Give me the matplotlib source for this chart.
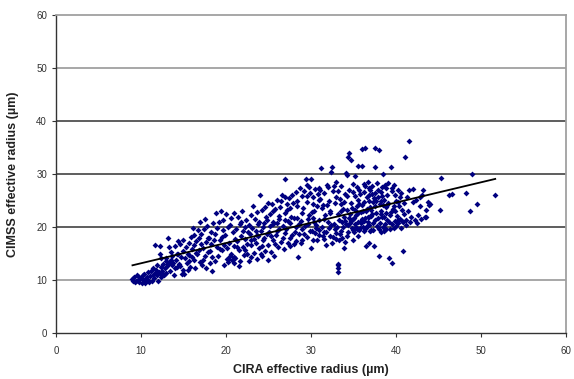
import matplotlib
matplotlib.use("Agg")
import matplotlib.pyplot as plt
import numpy as np

plt.rcParams['font.family'] = ['Liberation Sans', 'DejaVu Sans']

# ---- data (CIRA effective radius, CIMSS effective radius) ----
pts_09_13 = [(9.0,10.2),(9.1,9.8),(9.2,10.5),(9.4,9.9),(9.5,11.0),(9.6,10.1),(9.8,9.7),(10.0,10.4),
             (10.1,9.5),(10.3,11.2),(10.4,10.0),(10.5,9.4),(10.7,10.6),(10.8,11.5),(10.9,9.8),(9.3,9.6),
             (10.2,10.9),(11.0,9.6),(11.1,10.8),(11.2,11.8),(11.3,9.9),(11.4,12.3),(11.5,10.4),(11.6,11.3),
             (11.7,16.6),(11.8,12.0),(11.9,10.9),(12.0,9.9),(12.1,11.6),(12.2,16.5),(12.3,12.4),(12.4,10.6),
             (12.5,11.8),(12.6,13.0),(12.7,10.9),(12.8,12.2),(12.9,11.4),(12.2,15.0),(12.4,14.2),(12.6,11.1),
             (11.9,12.8),(12.9,13.6)]
pts_13_17 = [(13.0,14.2),(13.1,12.6),(13.2,18.0),(13.3,13.5),(13.4,11.7),(13.5,15.4),(13.6,12.9),(13.7,14.6),
             (13.8,13.2),(13.9,11.0),(14.0,16.4),(14.1,13.8),(14.2,12.4),(14.3,15.0),(14.4,17.3),(14.5,13.1),
             (14.6,16.8),(14.7,14.4),(14.8,11.2),(14.9,12.0),(15.0,17.6),(14.2,14.9),(13.5,13.8),(14.6,12.7),
             (13.3,16.2),(14.9,15.5),(15.1,11.1),(15.2,14.2),(15.3,16.3),(15.4,13.2),(15.5,15.0),(15.6,17.0),
             (15.7,14.7),(15.8,12.5),(15.9,18.2),(16.0,15.8),(16.1,19.8),(16.2,13.8),(16.3,16.6),(16.4,12.2),
             (16.5,17.4),(16.6,14.9),(16.7,19.5),(16.8,15.6),(16.9,21.0),(17.0,13.4),(16.2,18.6),(15.5,12.0),
             (16.8,17.9),(16.0,14.3)]
pts_17_21 = [(17.1,18.8),(17.2,12.8),(17.3,16.1),(17.4,19.6),(17.5,14.5),(17.6,17.2),(17.7,12.3),(17.8,20.3),
             (17.9,15.4),(18.0,18.0),(18.1,13.2),(18.2,16.8),(18.3,19.1),(18.4,14.3),(18.5,20.8),(18.6,17.5),
             (18.7,13.6),(18.8,22.6),(18.9,16.3),(19.0,19.8),(17.5,21.5),(18.4,11.8),(17.9,17.9),(18.7,18.8),
             (17.3,13.8),(19.1,14.5),(19.2,20.9),(19.3,17.6),(19.4,23.1),(19.5,15.7),(19.6,19.4),(19.7,21.3),
             (19.8,16.7),(19.9,18.5),(20.0,22.5),(20.1,14.0),(20.2,20.1),(20.3,13.5),(20.4,17.0),(20.5,14.6),
             (20.6,21.8),(20.7,13.8),(20.8,19.0),(20.9,14.3),(21.0,22.7),(20.6,15.0),(20.2,13.9),(19.5,18.2),
             (20.9,16.4),(19.8,12.8),(20.5,20.4),(21.0,13.2)]
pts_21_25 = [(21.1,14.1),(21.2,19.6),(21.3,17.3),(21.4,22.0),(21.5,15.6),(21.6,20.5),(21.7,13.6),(21.8,18.3),
             (21.9,23.0),(22.0,16.2),(22.1,14.8),(22.2,20.0),(22.3,17.8),(22.4,21.4),(22.5,15.0),(22.6,19.0),
             (22.7,13.7),(22.8,18.7),(22.9,22.2),(23.0,16.6),(21.5,12.6),(22.3,15.7),(21.8,21.0),(22.7,20.4),
             (23.0,14.3),(21.3,16.2),(22.0,19.3),(22.9,17.6),(23.1,19.8),(23.2,24.0),(23.3,15.2),(23.4,21.6),
             (23.5,17.0),(23.6,14.0),(23.7,22.8),(23.8,18.3),(23.9,16.0),(24.0,26.0),(24.1,19.3),(24.2,14.6),
             (24.3,23.2),(24.4,17.6),(24.5,20.7),(24.6,15.5),(24.7,22.0),(24.8,18.8),(24.9,13.8),(25.0,24.6),
             (23.5,19.2),(24.2,16.5),(24.8,21.3),(23.8,20.5),(24.5,18.0),(25.0,16.7),(23.3,17.8),(24.6,23.8),
             (24.1,15.0),(23.9,21.0)]
pts_25_29 = [(25.1,19.1),(25.2,22.5),(25.3,15.3),(25.4,24.3),(25.5,17.6),(25.6,20.6),(25.7,14.5),(25.8,23.4),
             (25.9,18.5),(26.0,25.2),(26.1,16.3),(26.2,21.5),(26.3,19.6),(26.4,23.8),(26.5,17.2),(26.6,26.0),
             (26.7,20.2),(26.8,15.8),(26.9,22.6),(27.0,18.9),(25.5,21.0),(26.0,19.2),(26.5,24.9),(25.8,16.9),
             (26.9,25.7),(25.2,20.3),(26.3,22.1),(26.7,17.9),(25.6,23.0),(27.0,21.4),(27.0,29.1),(27.1,19.7),
             (27.2,23.3),(27.3,17.1),(27.4,25.5),(27.5,20.8),(27.6,16.5),(27.7,22.0),(27.8,18.5),(27.9,24.6),
             (28.0,21.7),(28.1,19.0),(28.2,26.7),(28.3,17.4),(28.4,23.9),(28.5,14.3),(28.6,20.5),(28.7,27.4),
             (28.8,17.0),(28.9,22.6),(29.0,25.8),(27.5,18.0),(28.0,16.9),(28.6,18.8),(27.3,21.2),(28.2,20.1),
             (28.9,19.6),(27.8,26.1),(28.4,24.9),(29.0,17.6),(27.6,23.7),(28.8,21.1)]
pts_29_33 = [(29.1,23.6),(29.2,26.9),(29.3,20.2),(29.4,29.1),(29.5,18.1),(29.6,24.7),(29.7,21.5),(29.8,27.6),
             (29.9,19.3),(30.0,29.0),(30.1,22.8),(30.2,25.6),(30.3,17.6),(30.4,20.9),(30.5,27.2),(30.6,19.8),
             (30.7,23.9),(30.8,26.2),(30.9,18.6),(31.0,21.3),(29.5,25.9),(30.0,16.0),(30.3,24.4),(29.8,22.3),
             (30.6,20.4),(29.2,18.8),(30.9,25.1),(31.0,27.4),(30.1,19.2),(29.6,27.9),(30.4,23.0),(30.7,17.5),
             (29.9,26.4),(30.2,21.7),(31.0,19.4),(31.1,27.0),(31.2,31.2),(31.3,20.1),(31.4,24.2),(31.5,17.7),
             (31.6,26.4),(31.7,22.2),(31.8,19.1),(31.9,28.0),(32.0,21.0),(32.1,25.0),(32.2,18.4),(32.3,23.1),
             (32.4,30.5),(32.5,17.0),(32.6,26.9),(32.7,20.6),(32.8,24.5),(32.9,18.9),(33.0,28.6),(31.5,21.6),
             (32.0,27.5),(32.5,31.3),(31.3,23.6),(32.8,19.6),(31.8,16.7),(32.2,22.7),(32.9,25.6),(31.6,19.0),
             (32.4,20.4),(33.0,17.8),(31.1,25.3),(32.6,18.2),(31.9,24.1),(32.7,27.8)]
pts_33_37 = [(33.2,11.6),(33.2,12.2),(33.2,12.8),(33.2,13.1),(33.1,20.0),(33.2,22.5),(33.3,17.5),(33.4,25.4),
             (33.5,19.3),(33.6,27.8),(33.7,21.0),(33.8,23.5),(33.9,16.0),(34.0,26.3),(34.1,20.6),(34.2,29.8),
             (34.3,18.4),(34.4,33.3),(34.5,34.0),(34.6,22.4),(34.7,24.6),(34.8,19.8),(34.9,28.2),(35.0,21.5),
             (33.5,23.0),(34.0,17.2),(34.5,21.8),(33.8,20.1),(34.3,25.9),(34.8,23.7),(33.4,18.8),(34.1,30.2),
             (34.9,17.6),(33.6,24.3),(34.6,20.7),(35.0,26.6),(33.9,22.0),(34.4,19.1),(33.2,26.9),(34.7,32.7),
             (35.0,19.4),(33.7,17.9),(34.2,23.2),(34.0,21.1),(35.1,21.8),(35.2,29.6),(35.3,20.1),(35.4,24.0),
             (35.5,31.6),(35.6,22.6),(35.7,19.5),(35.8,26.3),(35.9,20.7),(36.0,34.8),(36.1,23.1),(36.2,28.1),
             (36.3,21.2),(36.4,34.9),(36.5,19.8),(36.6,25.6),(36.7,22.0),(36.8,27.3),(36.9,20.4),(37.0,23.8),
             (35.2,20.6),(35.5,25.1),(35.8,19.9),(36.0,21.5),(36.2,24.7),(36.5,16.5),(36.7,28.6),(37.0,19.2),
             (35.4,27.6),(35.9,22.9),(36.3,26.6),(36.6,20.2),(36.9,25.0),(35.6,18.4),(36.1,20.0),(36.8,17.0),
             (35.3,22.3),(35.7,24.4),(36.4,21.7),(37.0,27.0),(35.1,19.0),(36.0,31.5),(36.6,23.4),(35.5,20.9),
             (36.9,21.9)]
pts_37_41 = [(37.1,23.2),(37.2,27.8),(37.3,19.5),(37.4,25.5),(37.5,21.3),(37.6,35.0),(37.7,22.6),(37.8,28.3),
             (37.9,20.1),(38.0,34.5),(38.1,24.3),(38.2,26.7),(38.3,19.0),(38.4,22.0),(38.5,30.0),(38.6,25.1),
             (38.7,20.6),(38.8,23.8),(38.9,27.3),(39.0,21.4),(37.4,16.4),(38.0,14.6),(37.5,31.4),(38.2,24.9),
             (37.8,20.3),(38.6,21.9),(37.2,22.5),(38.4,25.8),(38.9,19.6),(37.6,26.4),(38.1,20.8),(38.7,28.0),
             (37.3,24.7),(38.3,23.0),(39.0,26.1),(37.9,27.0),(38.5,20.0),(37.1,19.4),(38.8,22.7),(37.7,25.0),
             (39.1,24.6),(39.2,14.2),(39.3,22.3),(39.4,31.4),(39.5,13.3),(39.5,26.8),(39.6,20.6),(39.7,23.5),
             (39.8,27.9),(39.9,21.2),(40.0,25.0),(40.1,22.1),(40.2,27.0),(40.3,20.7),(40.4,24.0),(40.5,21.6),
             (40.6,26.4),(40.7,23.2),(40.8,15.5),(40.9,20.9),(41.0,24.6),(39.3,19.7),(39.8,23.9),(40.3,24.7),
             (39.6,27.3),(40.7,21.1),(40.0,20.3),(41.0,22.5),(39.9,26.0),(40.5,25.6)]
pts_41_52 = [(41.1,33.2),(41.5,36.2),(41.2,21.3),(41.4,23.1),(41.6,27.1),(41.8,21.9),(42.0,24.8),(42.2,21.4),
             (42.4,25.2),(42.6,22.3),(42.8,23.9),(43.0,21.5),(43.2,27.0),(43.4,22.0),(43.6,21.9),(43.8,24.7),
             (44.0,24.4),(42.0,27.2),(41.3,25.6),(42.5,20.8),(43.1,26.1),(43.5,23.3),(41.7,20.9),(42.9,25.6),
             (43.9,24.1),(45.3,29.3),(45.2,23.3),(46.3,26.1),(46.6,26.2),(48.3,26.4),(48.7,23.0),(49.0,30.1),
             (49.5,24.3),(51.7,26.1)]
pts_extra = [(34.35,20.4),(34.75,21.2),(35.15,23.3),(35.45,19.6),(35.85,21.1),(36.05,24.2),(36.25,19.3),
             (36.45,23.0),(36.75,20.9),(37.05,22.1),(37.35,20.7),(37.55,23.9),(37.85,21.8),(38.05,19.7),
             (38.25,22.4),(38.45,24.2),(38.65,19.3),(38.95,24.1),(39.15,21.0),(39.45,22.8),(39.75,19.9),
             (39.95,23.0),(40.25,21.4),(40.65,19.9),(41.15,20.4),(35.65,27.0),(36.35,27.8),(37.25,26.2),
             (37.95,25.7),(38.35,27.5),(39.05,28.3),(36.85,26.0),(35.25,25.8),(34.45,27.0),(33.85,24.7),
             (33.35,21.3),(32.15,19.8),(31.45,18.3),(30.45,18.9),(29.65,20.6),(28.35,21.8),(27.15,24.3),
             (26.05,20.8),(25.35,18.3),(24.35,20.0),(23.65,18.5),(22.45,16.9),(21.05,17.8),(20.15,16.0),
             (19.25,15.8),(18.15,15.5),(17.05,16.9),(16.45,15.2),(15.65,13.6),(14.05,12.2),(13.15,13.0),
             (12.35,11.2),(11.45,11.0),(10.65,10.2),(9.75,10.6)]

# linear trend line (end points)
trend_x = [9.0, 51.7]
trend_y = [12.8, 29.1]

x_ticks = [0, 10, 20, 30, 40, 50, 60]
y_ticks = [0, 10, 20, 30, 40, 50, 60]

groups = [pts_09_13, pts_13_17, pts_17_21, pts_21_25, pts_25_29, pts_29_33, pts_33_37, pts_37_41,
          pts_41_52, pts_extra]
allpts = np.array([p for g in groups for p in g])

fig = plt.figure(figsize=(5.74, 3.79), dpi=100)
ax = fig.add_axes([0.0976, 0.121, 0.888, 0.839])

grid_colors = {10: '#a0a0a0', 20: '#505050', 30: '#505050', 40: '#505050', 50: '#a0a0a0'}
for yv, c in grid_colors.items():
    ax.axhline(yv, color=c, lw=1.3, zorder=1)

ax.scatter(allpts[:, 0], allpts[:, 1], s=9, marker='D', color='#000080', linewidths=0, zorder=3)
ax.plot(trend_x, trend_y, color='black', lw=1.3, zorder=4)

ax.set_xlim(0, 60)
ax.set_ylim(0, 60)
ax.set_xticks(x_ticks)
ax.set_yticks(y_ticks)
ax.tick_params(axis='both', labelsize=7, colors='#333333', length=3, width=0.8, direction='out')
ax.tick_params(axis='x', pad=6)

for s in ['top', 'right']:
    ax.spines[s].set_color('#a0a0a0')
    ax.spines[s].set_linewidth(1.3)
for s in ['left', 'bottom']:
    ax.spines[s].set_color('#333333')
    ax.spines[s].set_linewidth(1.0)

ax.set_xlabel('CIRA effective radius (\u00b5m)', fontsize=9, fontweight='bold', color='#222222', labelpad=6)
ax.set_ylabel('CIMSS effective radius (\u00b5m)', fontsize=9, fontweight='bold', color='#222222', labelpad=12)

fig.savefig('out.png', dpi=100)
